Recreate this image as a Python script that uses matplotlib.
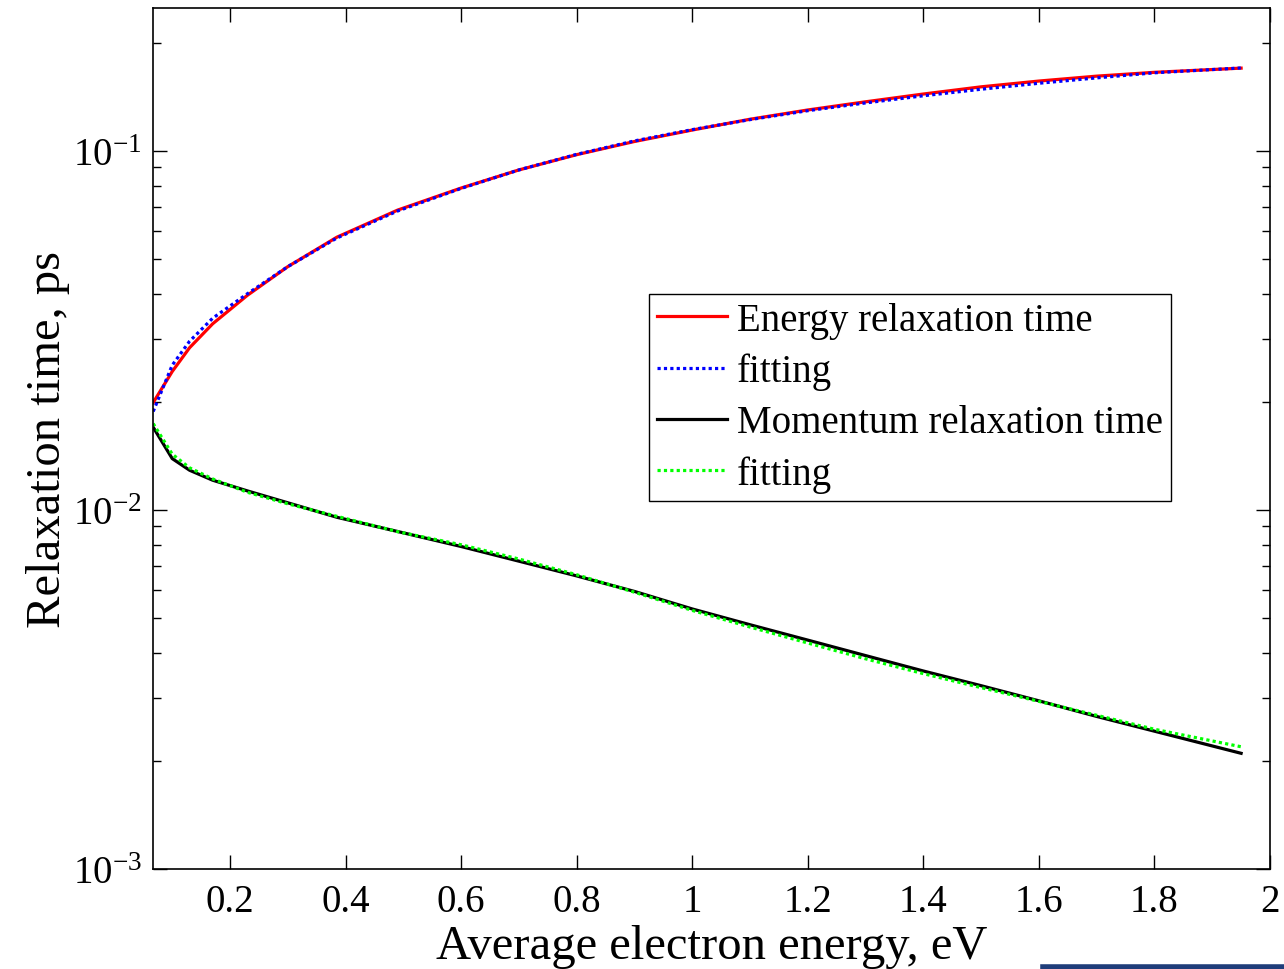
import matplotlib
matplotlib.use("Agg")
import matplotlib.pyplot as plt
from matplotlib.ticker import LogLocator, FixedLocator, NullFormatter, NullLocator
from matplotlib.lines import Line2D

plt.rcParams['font.family'] = ['Liberation Serif', 'DejaVu Serif']
plt.rcParams['mathtext.fontset'] = 'custom'
plt.rcParams['mathtext.rm'] = 'Liberation Serif'
plt.rcParams['mathtext.it'] = 'Liberation Serif:italic'
plt.rcParams['mathtext.bf'] = 'Liberation Serif:bold'

# ---- data ----
energy = [0.067, 0.1, 0.13, 0.17, 0.23, 0.3, 0.385, 0.49, 0.6, 0.7, 0.8, 0.9,
          1.0, 1.1, 1.2, 1.3, 1.4, 1.5, 1.6, 1.7, 1.8, 1.95]
tau_energy = [0.0199, 0.0243, 0.0283, 0.0330, 0.0396, 0.0476, 0.0575, 0.0684,
              0.0788, 0.0885, 0.0976, 0.1062, 0.1143, 0.1225, 0.1300, 0.1370,
              0.1440, 0.1508, 0.1565, 0.1615, 0.1655, 0.1700]
tau_energy_fit = [0.0188, 0.0253, 0.0295, 0.0342, 0.0400, 0.0476, 0.0572, 0.0680,
                  0.0786, 0.0885, 0.0978, 0.1066, 0.1146, 0.1222, 0.1294, 0.1360,
                  0.1424, 0.1485, 0.1543, 0.1597, 0.1650, 0.1702]
tau_momentum = [0.0170, 0.0139, 0.0129, 0.0121, 0.0113, 0.01047, 0.00954, 0.00871,
                0.00791, 0.00720, 0.00655, 0.00593, 0.00530, 0.00479, 0.00434,
                0.00393, 0.00356, 0.00324, 0.00294, 0.00266, 0.00242, 0.00210]
tau_momentum_fit = [0.0174, 0.0143, 0.0131, 0.0122, 0.0112, 0.0104, 0.0096, 0.0087,
                    0.0080, 0.0073, 0.0066, 0.0059, 0.00525, 0.00472, 0.00426,
                    0.00385, 0.00350, 0.00320, 0.00293, 0.00268, 0.00245, 0.00219]
x_ticks = [0.2, 0.4, 0.6, 0.8, 1.0, 1.2, 1.4, 1.6, 1.8, 2.0]
x_tick_labels = ['0.2', '0.4', '0.6', '0.8', '1', '1.2', '1.4', '1.6', '1.8', '2']
legend_labels = ['Energy relaxation time', 'fitting', 'Momentum relaxation time', 'fitting']

fig = plt.figure(figsize=(12.84, 9.70), dpi=100)
ax = fig.add_axes([153/1284, 1-870/970, (1270-153)/1284, (870-9)/970])

dot = (0, (1, 1))
ax.plot(energy, tau_energy, color='#ff0000', lw=2.3, label=legend_labels[0])
ax.plot(energy, tau_energy_fit, color='#0000ff', lw=2.3, ls=dot, label=legend_labels[1])
ax.plot(energy, tau_momentum, color='#000000', lw=2.3, label=legend_labels[2])
ax.plot(energy, tau_momentum_fit, color='#00ff00', lw=2.3, ls=dot, label=legend_labels[3])

ax.set_yscale('log')
ax.set_xlim(0.0667, 2.0)
ax.set_ylim(1e-3, 0.25)
ax.xaxis.set_major_locator(FixedLocator(x_ticks))
ax.set_xticklabels(x_tick_labels)
ax.xaxis.set_minor_locator(NullLocator())
ax.yaxis.set_major_locator(LogLocator(base=10, numticks=10))
ax.yaxis.set_minor_locator(LogLocator(base=10, subs=range(2, 10), numticks=20))
ax.yaxis.set_minor_formatter(NullFormatter())

ax.tick_params(axis='both', which='both', direction='in', top=True, right=True,
               width=1.0, color='black')
ax.tick_params(axis='x', which='major', length=10, labelsize=28, pad=10)
ax.tick_params(axis='y', which='major', length=10, labelsize=28, pad=8)
ax.tick_params(axis='y', which='minor', length=6)
for s in ax.spines.values():
    s.set_linewidth(1.2)

ax.set_xlabel('Average electron energy, eV', fontsize=35, labelpad=3)
ax.set_ylabel('Relaxation time, ps', fontsize=35, labelpad=2)

leg = ax.legend(loc='upper left', bbox_to_anchor=((649-153)/(1270-153), 1-(295-9)/(870-9)),
                fontsize=28, frameon=True, fancybox=False, framealpha=1,
                edgecolor='black', handlelength=1.8, handletextpad=0.26,
                labelspacing=0.36, borderpad=0.2, borderaxespad=0)
leg.get_frame().set_linewidth(1.0)

# screenshot artifact bar at bottom right
fig.add_artist(Line2D([1043/1284, 1.0], [2.5/970, 2.5/970], color='#1f3d7a', lw=4,
                      transform=fig.transFigure))

fig.savefig('out.png', dpi=100)
